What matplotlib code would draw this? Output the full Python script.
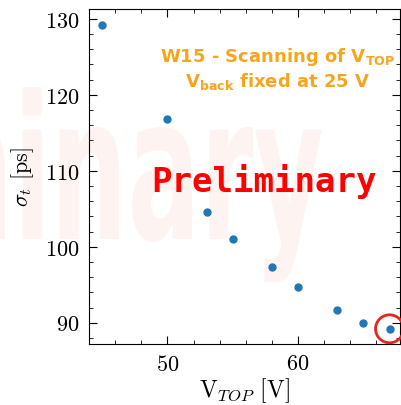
import matplotlib
matplotlib.use('Agg')
import matplotlib.pyplot as plt
from matplotlib.patches import Ellipse, PathPatch
from matplotlib.textpath import TextPath
from matplotlib.font_manager import FontProperties
from matplotlib.transforms import Affine2D, IdentityTransform
from matplotlib.ticker import MultipleLocator

plt.rcParams['font.family'] = 'serif'
plt.rcParams['font.serif'] = ['cmr10']
plt.rcParams['mathtext.fontset'] = 'cm'
plt.rcParams['axes.formatter.use_mathtext'] = True

v_top = [45, 50, 53, 55, 58, 60, 63, 65, 67]
sigma_t = [129.2, 116.8, 104.6, 101.0, 97.4, 94.7, 91.7, 90.0, 89.2]

W, H = 401, 406
fig = plt.figure(figsize=(W / 100, H / 100), dpi=100)
ax = fig.add_axes([89 / W, 1 - 345 / H, 311 / W, 335 / H])
ax.set_facecolor('none')

# faint stretched watermark behind everything (pixel coords)
wm = TextPath((0, 0), 'Preliminary', size=1,
              prop=FontProperties(family='DejaVu Sans', weight='bold'))
bb = wm.get_extents()
sx, sy = 108, 200
tr = Affine2D().scale(sx, sy).translate(322 - bb.x1 * sx, H - 240)
fig.add_artist(PathPatch(tr.transform_path(wm), transform=IdentityTransform(),
                         facecolor='#fdf3f1', edgecolor='none', zorder=-10))

ax.scatter(v_top, sigma_t, s=25, color='#1f77b4', zorder=3)

ax.set_xlim(44.0, 67.8)
ax.set_ylim(87.2, 131.3)
ax.xaxis.set_major_locator(MultipleLocator(10))
ax.xaxis.set_minor_locator(MultipleLocator(2))
ax.yaxis.set_major_locator(MultipleLocator(10))
ax.yaxis.set_minor_locator(MultipleLocator(2))
ax.tick_params(which='both', direction='in', top=True, right=True, labelsize=16, pad=7)
ax.tick_params(which='major', length=6)
ax.tick_params(which='minor', length=3)

ax.set_xlabel(r'V$_{TOP}$ [V]', fontsize=17, labelpad=1)
ax.set_ylabel(r'$\sigma_t$ [ps]', fontsize=16, labelpad=6)

# highlight last point
circ = Ellipse((v_top[-1], sigma_t[-1]), width=28 / 13.07, height=28 / 7.6,
               fill=False, edgecolor='#e8251a', linewidth=2, zorder=4, clip_on=False)
ax.add_patch(circ)

orange = '#f6a61e'
fig.text(278 / W, 1 - 57 / H, r'W15 - Scanning of V$_{\mathbf{TOP}}$', fontsize=13,
         fontweight='bold', family='DejaVu Sans', math_fontfamily='dejavusans',
         color=orange, ha='center', va='center')
fig.text(278 / W, 1 - 82 / H, r'V$_{\mathbf{back}}$ fixed at 25 V', fontsize=13,
         fontweight='bold', family='DejaVu Sans', math_fontfamily='dejavusans',
         color=orange, ha='center', va='center')

fig.text(264 / W, 1 - 182 / H, 'Preliminary', fontsize=24.5, fontweight='bold',
         family='DejaVu Sans Mono', color='#ff0000', ha='center', va='center')

fig.savefig('out.png', dpi=100)
